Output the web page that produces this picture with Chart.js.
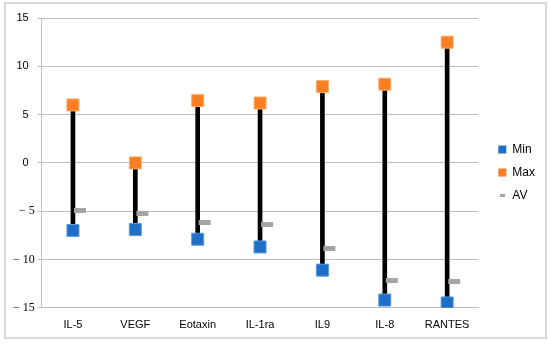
<!DOCTYPE html>
<html>
<head>
<meta charset="utf-8">
<script src="https://cdn.jsdelivr.net/npm/chart.js@4"></script>
<style>
html,body{margin:0;padding:0;background:#fff;}
#wrap{position:relative;width:550px;height:344px;}
#frame{position:absolute;left:4px;top:2px;width:539px;height:333px;border:2px solid #d9d9d9;pointer-events:none;}
canvas{position:absolute;left:0;top:0;}
</style>
</head>
<body>
<div id="wrap"><canvas id="c" width="550" height="344"></canvas><div id="frame"></div></div>
<script>
const categories = ["IL-5", "VEGF", "Eotaxin", "IL-1ra", "IL9", "IL-8", "RANTES"];
const minValues = [-7.0, -6.9, -7.9, -8.7, -11.1, -14.2, -14.5];
const maxValues = [6.0, 0.0, 6.45, 6.2, 7.9, 8.15, 12.5];
const avValues = [-4.9, -5.25, -6.15, -6.35, -8.9, -12.15, -12.3];
const yTicks = [-15, -10, -5, 0, 5, 10, 15];

function dashImage(w, h, x0, x1, color) {
  const c = document.createElement('canvas');
  c.width = w; c.height = h;
  const g = c.getContext('2d');
  g.fillStyle = color;
  g.fillRect(x0, 0, x1 - x0, h);
  return c;
}
const avMarker = dashImage(28, 5, 15, 27, '#a5a5a5');
const avLegend = dashImage(5, 3, 0, 5, '#a5a5a5');

const ranges = categories.map((_, i) => [minValues[i], maxValues[i]]);

const legendShift = {
  id: 'legendShift',
  afterLayout(chart) {
    const lg = chart.legend;
    lg.left += 9; lg.right += 9;
    lg.top -= 8; lg.bottom -= 8;
  }
};

new Chart(document.getElementById('c'), {
  type: 'bar',
  data: {
    labels: categories,
    datasets: [
      { type: 'bar', label: 'range', data: ranges, backgroundColor: '#000', barThickness: 4, order: 10 },
      { type: 'line', label: 'Min', data: minValues, showLine: false, pointStyle: 'rect', pointRadius: 8.5, pointHoverRadius: 8.5,
        pointBackgroundColor: '#1f6fc8', pointBorderColor: '#5b9be0', pointBorderWidth: 1, backgroundColor: '#1f6fc8', order: 1 },
      { type: 'line', label: 'Max', data: maxValues, showLine: false, pointStyle: 'rect', pointRadius: 8.5, pointHoverRadius: 8.5,
        pointBackgroundColor: '#f97f22', pointBorderColor: '#fbae6e', pointBorderWidth: 1, backgroundColor: '#f97f22', order: 2 },
      { type: 'line', label: 'AV', data: avValues, showLine: false, pointStyle: avMarker, pointRadius: 8, order: 3 }
    ]
  },
  plugins: [legendShift],
  options: {
    responsive: false,
    animation: false,
    layout: { padding: { left: 10, top: 18, right: 14, bottom: 1 } },
    plugins: {
      tooltip: { enabled: false },
      legend: {
        position: 'right',
        labels: {
          usePointStyle: true,
          boxWidth: 8,
          boxHeight: 8,
          padding: 11,
          color: '#000',
          font: { family: 'Liberation Sans', size: 12 },
          generateLabels: function () {
            return [
              { text: 'Min', pointStyle: 'rect', fillStyle: '#1f6fc8', strokeStyle: '#1f6fc8', lineWidth: 0, datasetIndex: 1 },
              { text: 'Max', pointStyle: 'rect', fillStyle: '#f97f22', strokeStyle: '#f97f22', lineWidth: 0, datasetIndex: 2 },
              { text: 'AV', pointStyle: avLegend, fillStyle: '#a5a5a5', strokeStyle: '#a5a5a5', lineWidth: 0, datasetIndex: 3 }
            ];
          }
        }
      }
    },
    scales: {
      x: {
        grid: { display: false, drawTicks: false },
        border: { color: '#bfbfbf' },
        ticks: { color: '#000', font: { family: 'Liberation Sans', size: 11 }, padding: 11, maxRotation: 0 }
      },
      y: {
        min: -15, max: 15,
        afterBuildTicks: (axis) => { axis.ticks = yTicks.map(v => ({ value: v })); },
        grid: { color: '#bfbfbf', tickLength: 4 },
        border: { color: '#bfbfbf' },
        ticks: {
          color: '#000',
          padding: 3,
          font: (ctx) => (ctx.tick && ctx.tick.value < 0)
            ? { family: 'Liberation Serif', size: 12 }
            : { family: 'Liberation Sans', size: 11 },
          callback: (v) => v < 0 ? '\u2212 ' + Math.abs(v) : String(v) + '\u00a0\u00a0'
        }
      }
    }
  }
});
</script>
</body>
</html>
